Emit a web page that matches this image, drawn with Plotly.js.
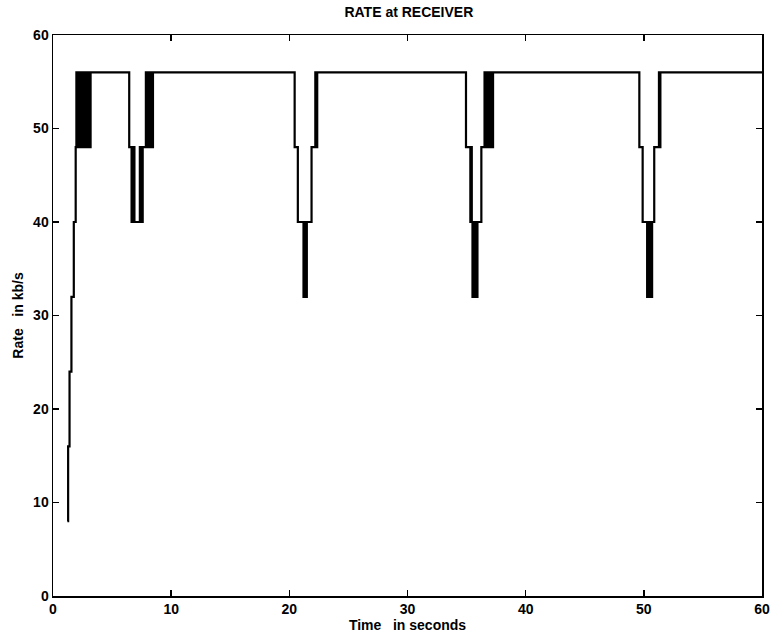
<!DOCTYPE html>
<html>
<head>
<meta charset="utf-8">
<script src="https://cdn.plot.ly/plotly-3.0.1.min.js"></script>
<style>html,body{margin:0;padding:0;background:#fff;}#chart{width:770px;height:640px;}</style>
</head>
<body>
<div id="chart"></div>
<script>
// Time (s) at which each new rate value starts (step, held until next point)
const rampTime = [1.22, 1.28, 1.40, 1.56, 1.76, 1.92];
const rampRate = [8, 16, 24, 32, 40, 48];

const burst1Time = [1.98, 2.04, 2.10, 2.16, 2.22, 2.28, 2.34, 2.40, 2.46, 2.52, 2.58, 2.64, 2.70, 2.76, 2.82, 2.88, 2.94, 3.00, 3.06, 3.12, 3.18];
const burst1Rate = [56, 48, 56, 48, 56, 48, 56, 48, 56, 48, 56, 48, 56, 48, 56, 48, 56, 48, 56, 48, 56];

const dip1Time = [6.45, 6.65, 6.71, 6.77, 6.83, 6.89, 7.35, 7.41, 7.47, 7.53, 7.59, 7.86, 7.92, 7.98, 8.04, 8.10, 8.16, 8.22, 8.28, 8.34, 8.40, 8.46, 8.52];
const dip1Rate = [48, 40, 48, 40, 48, 40, 48, 40, 48, 40, 48, 56, 48, 56, 48, 56, 48, 56, 48, 56, 48, 56, 56];

const dip2Time = [20.45, 20.72, 21.20, 21.26, 21.32, 21.38, 21.44, 21.48, 21.88, 22.20, 22.28, 22.36];
const dip2Rate = [48, 40, 32, 40, 32, 40, 32, 40, 48, 56, 48, 56];

const dip3Time = [34.95, 35.32, 35.38, 35.44, 35.50, 35.56, 35.62, 35.68, 35.74, 35.80, 35.86, 35.92, 36.25, 36.52, 36.58, 36.64, 36.70, 36.76, 36.82, 36.88, 36.94, 37.00, 37.06, 37.12, 37.18, 37.24];
const dip3Rate = [48, 40, 48, 40, 32, 40, 32, 40, 32, 40, 32, 40, 48, 56, 48, 56, 48, 56, 48, 56, 48, 56, 48, 56, 48, 56];

const dip4Time = [49.62, 49.90, 50.28, 50.34, 50.40, 50.46, 50.52, 50.58, 50.64, 50.70, 50.88, 51.28, 51.34, 51.40];
const dip4Rate = [48, 40, 32, 40, 32, 40, 32, 40, 32, 40, 48, 56, 48, 56];

const endTime = [60];
const endRate = [56];

const xTicks = [0, 10, 20, 30, 40, 50, 60];
const yTicks = [0, 10, 20, 30, 40, 50, 60];

const timeSeries = [].concat(rampTime, burst1Time, dip1Time, dip2Time, dip3Time, dip4Time, endTime);
const rateSeries = [].concat(rampRate, burst1Rate, dip1Rate, dip2Rate, dip3Rate, dip4Rate, endRate);

const fontFam = 'Liberation Sans, Arial, sans-serif';

const trace = {
  x: timeSeries,
  y: rateSeries,
  type: 'scatter',
  mode: 'lines',
  line: {color: '#000', width: 2.2, shape: 'hv'},
  hoverinfo: 'skip'
};

const axisCommon = {
  showgrid: false,
  zeroline: false,
  showline: true,
  linecolor: '#000',
  linewidth: 1.5,
  mirror: 'ticks',
  ticks: 'inside',
  ticklen: 6,
  tickwidth: 1.5,
  tickcolor: '#000',
  tickfont: {family: fontFam, size: 14, color: '#000', weight: 'bold'}
};

const layout = {
  width: 770,
  height: 640,
  margin: {l: 53, r: 8, t: 35, b: 44},
  paper_bgcolor: '#fff',
  plot_bgcolor: '#fff',
  showlegend: false,
  title: {
    text: 'RATE at RECEIVER',
    x: 0.531, xanchor: 'center',
    y: 0.981, yanchor: 'middle',
    font: {family: fontFam, size: 14, color: '#000', weight: 'bold'}
  },
  xaxis: Object.assign({}, axisCommon, {
    range: [0, 60],
    tickvals: xTicks,
    ticktext: xTicks.map(String),
    title: {text: 'Time&nbsp;&nbsp;&nbsp;in seconds', standoff: 2,
      font: {family: fontFam, size: 14, color: '#000', weight: 'bold'}}
  }),
  yaxis: Object.assign({}, axisCommon, {
    range: [0, 60],
    tickvals: yTicks,
    ticktext: yTicks.map(String),
    title: {text: 'Rate&nbsp;&nbsp;&nbsp;in kb/s', standoff: 6,
      font: {family: fontFam, size: 14, color: '#000', weight: 'bold'}}
  })
};

Plotly.newPlot('chart', [trace], layout, {staticPlot: true, displayModeBar: false});
</script>
</body>
</html>
